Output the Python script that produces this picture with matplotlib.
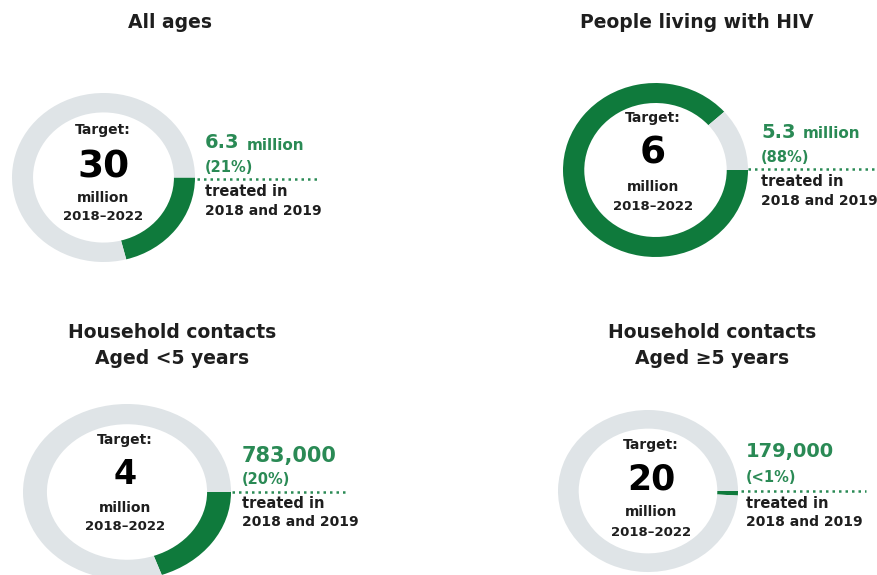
import matplotlib
matplotlib.use("Agg")
import matplotlib.pyplot as plt

# --- data -------------------------------------------------------------
titles = [["All ages"],
          ["People living with HIV"],
          ["Household contacts", "Aged <5 years"],
          ["Household contacts", "Aged \u22655 years"]]
targets = [30_000_000, 6_000_000, 4_000_000, 20_000_000]
treated = [6_300_000, 5_300_000, 783_000, 179_000]
target_labels = ["30", "6", "4", "20"]
treated_labels = ["6.3", "5.3", "783,000", "179,000"]
treated_units = ["million", "million", "", ""]
pct_labels = ["(21%)", "(88%)", "(20%)", "(<1%)"]

# --- layout (pixels, y down) ------------------------------------------
W, H = 877, 575
GREEN = "#0f7a3c"
TEXT_GREEN = "#2a8a55"
GREY = "#dfe4e7"
DARK = "#1e1e1e"

donut_box = [(103.5, 177.5, 91.5, 84.5),   # cx, cy, rx, ry
             (655.5, 170, 92.5, 87),
             (127, 492, 104, 88),
             (648, 491, 90, 81)]
title_pos = [(170, [23]), (697, [23]), (172, [333, 358]), (712, [333, 358])]
center_x = [103, 653, 125, 651]
center_y = [(130, 167, 198, 217), (118, 153, 187, 206),
            (440, 475, 508, 527), (445, 479, 512, 532)]
num_size = [27, 27, 24, 25]
label_x = [205, 761, 242, 746]
label_y = [(143, 167, 192, 211), (132, 157, 182, 201),
           (456, 479, 504, 522), (452, 477, 504, 522)]
value_size = [14, 14, 15, 14]
dot_line = [(197, 320, 179), (748, 877, 169), (232, 347, 492), (741, 866, 491)]

fig = plt.figure(figsize=(W / 100, H / 100), dpi=100)
fig.patch.set_facecolor("white")

for i in range(4):
    cx, cy, rx, ry = donut_box[i]
    ax = fig.add_axes([(cx - rx) / W, (H - cy - ry) / H, 2 * rx / W, 2 * ry / H])
    ax.pie([treated[i], targets[i] - treated[i]], colors=[GREEN, GREY],
           startangle=0, counterclock=False, radius=1,
           wedgeprops=dict(width=0.23, linewidth=0))
    ax.set_aspect("auto")
    ax.set_xlim(-1, 1)
    ax.set_ylim(-1, 1)
    ax.axis("off")

top = fig.add_axes([0, 0, 1, 1], zorder=5)
top.set_xlim(0, W)
top.set_ylim(H, 0)
top.axis("off")
top.patch.set_alpha(0)

for i in range(4):
    tx, tys = title_pos[i]
    for line, ty in zip(titles[i], tys):
        top.text(tx, ty, line, ha="center", va="center", fontsize=13.5,
                 fontweight="bold", color=DARK)

    x = center_x[i]
    y1, y2, y3, y4 = center_y[i]
    top.text(x, y1, "Target:", ha="center", va="center", fontsize=10,
             fontweight="bold", color=DARK)
    top.text(x, y2, target_labels[i], ha="center", va="center",
             fontsize=num_size[i], fontweight="bold", color="black")
    top.text(x, y3, "million", ha="center", va="center", fontsize=10,
             fontweight="bold", color=DARK)
    top.text(x, y4, "2018\u20132022", ha="center", va="center", fontsize=9.5,
             fontweight="bold", color=DARK)

    lx = label_x[i]
    v1, v2, v3, v4 = label_y[i]
    t = top.text(lx, v1, treated_labels[i], ha="left", va="center",
                 fontsize=value_size[i], fontweight="bold", color=TEXT_GREEN)
    if treated_units[i]:
        top.annotate(treated_units[i], xy=(1, 0), xycoords=t,
                     xytext=(5, 0), textcoords="offset points",
                     ha="left", va="bottom", fontsize=11,
                     fontweight="bold", color=TEXT_GREEN)
    top.text(lx, v2, pct_labels[i], ha="left", va="center", fontsize=10.5,
             fontweight="bold", color=TEXT_GREEN)
    top.text(lx, v3, "treated in", ha="left", va="center", fontsize=10.5,
             fontweight="bold", color=DARK)
    top.text(lx, v4, "2018 and 2019", ha="left", va="center", fontsize=10,
             fontweight="bold", color=DARK)

    x0, x1, yl = dot_line[i]
    top.plot([x0, x1], [yl, yl], color=TEXT_GREEN, linewidth=1.8,
             linestyle=(0, (1, 1.6)))

fig.savefig("out.png", dpi=100, facecolor="white")
